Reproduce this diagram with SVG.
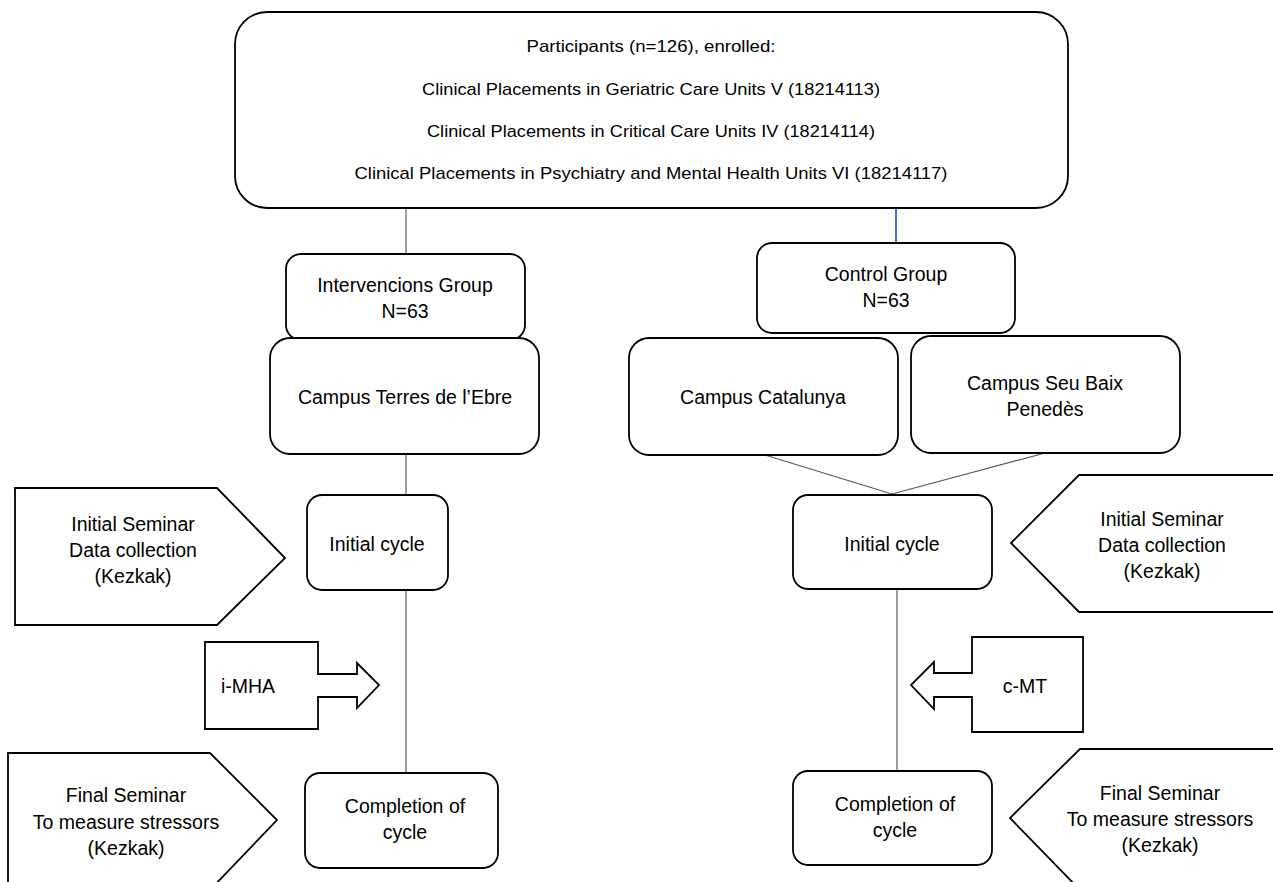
<svg xmlns="http://www.w3.org/2000/svg" width="1273" height="882" viewBox="0 0 1273 882">
<style>
.box{fill:#fff;stroke:#000;stroke-width:1.8}
.shape{fill:#fff;stroke:#000;stroke-width:1.8;stroke-linejoin:miter}
.conn{stroke:#595959;stroke-width:1.2;fill:none}
.blue{stroke:#4472C4;stroke-width:2;fill:none}
text{font-family:"Liberation Sans",Arial,sans-serif;font-size:19.5px;fill:#000;text-anchor:middle}
.sm{font-size:17px}
</style>
<rect width="1273" height="882" fill="#fff"/>
<g id="connectors">
<line class="conn" x1="406" y1="208" x2="406" y2="255"/>
<line class="blue" x1="896" y1="208" x2="896" y2="243"/>
<line class="conn" x1="406" y1="454" x2="406" y2="495"/>
<line class="conn" x1="765" y1="455" x2="892" y2="494"/>
<line class="conn" x1="1045" y1="453" x2="892" y2="494"/>
<line class="conn" x1="406" y1="590" x2="406" y2="773"/>
<line class="conn" x1="897" y1="589" x2="897" y2="771"/>
</g>
<g id="participants">
<rect class="box" x="235" y="12" width="833" height="196" rx="32"/>
<text class="sm" x="651" y="52" textLength="249" lengthAdjust="spacingAndGlyphs">Participants (n=126), enrolled:</text>
<text class="sm" x="651" y="95" textLength="458" lengthAdjust="spacingAndGlyphs">Clinical Placements in Geriatric Care Units V (18214113)</text>
<text class="sm" x="651" y="137" textLength="448" lengthAdjust="spacingAndGlyphs">Clinical Placements in Critical Care Units IV (18214114)</text>
<text class="sm" x="651" y="179" textLength="593" lengthAdjust="spacingAndGlyphs">Clinical Placements in Psychiatry and Mental Health Units VI (18214117)</text>
</g>
<g id="intervention-group">
<rect class="box" x="286" y="254" width="239" height="86" rx="15"/>
<text x="405" y="292">Intervencions Group</text>
<text x="405" y="318">N=63</text>
</g>
<g id="campus-terres">
<rect class="box" x="270" y="338" width="269" height="116" rx="20"/>
<text x="405" y="404">Campus Terres de l’Ebre</text>
</g>
<g id="control-group">
<rect class="box" x="757" y="243" width="258" height="90" rx="15"/>
<text x="886" y="281">Control Group</text>
<text x="886" y="307">N=63</text>
</g>
<g id="campus-catalunya">
<rect class="box" x="629" y="338" width="269" height="117" rx="20"/>
<text x="763" y="404">Campus Catalunya</text>
</g>
<g id="campus-seu">
<rect class="box" x="911" y="336" width="269" height="117" rx="20"/>
<text x="1045" y="390">Campus Seu Baix</text>
<text x="1045" y="416">Penedès</text>
</g>
<g id="initial-cycle-left">
<rect class="box" x="307" y="495" width="141" height="95" rx="15"/>
<text x="377" y="551">Initial cycle</text>
</g>
<g id="initial-cycle-right">
<rect class="box" x="793" y="495" width="199" height="94" rx="15"/>
<text x="892" y="551">Initial cycle</text>
</g>
<g id="seminar-initial-left">
<polygon class="shape" points="15,488 217,488 285,558 217,625 15,625"/>
<text x="133" y="531">Initial Seminar</text>
<text x="133" y="557">Data collection</text>
<text x="133" y="583">(Kezkak)</text>
</g>
<g id="seminar-initial-right">
<polygon class="shape" points="1290,475 1079,475 1011,543 1079,612 1290,612"/>
<text x="1162" y="526">Initial Seminar</text>
<text x="1162" y="552">Data collection</text>
<text x="1162" y="578">(Kezkak)</text>
</g>
<g id="imha">
<polygon class="shape" points="205,642 318,642 318,674 357,674 357,663 379,685 357,708 357,697 318,697 318,729 205,729"/>
<text x="248" y="693">i-MHA</text>
</g>
<g id="cmt">
<polygon class="shape" points="1083,637 972,637 972,673 934,673 934,662 911,685 934,709 934,697 972,697 972,732 1083,732"/>
<text x="1025" y="693">c-MT</text>
</g>
<g id="completion-left">
<rect class="box" x="305" y="773" width="193" height="95" rx="15"/>
<text x="405" y="813">Completion of</text>
<text x="405" y="839">cycle</text>
</g>
<g id="completion-right">
<rect class="box" x="793" y="771" width="199" height="94" rx="15"/>
<text x="895" y="811">Completion of</text>
<text x="895" y="837">cycle</text>
</g>
<g id="seminar-final-left">
<polygon class="shape" points="8,753 210,753 277,820 210,890 8,890"/>
<text x="126" y="802">Final Seminar</text>
<text x="126" y="829">To measure stressors</text>
<text x="126" y="855">(Kezkak)</text>
</g>
<g id="seminar-final-right">
<polygon class="shape" points="1290,749 1080,749 1010,818 1080,890 1290,890"/>
<text x="1160" y="800">Final Seminar</text>
<text x="1160" y="826">To measure stressors</text>
<text x="1160" y="852">(Kezkak)</text>
</g>
</svg>
